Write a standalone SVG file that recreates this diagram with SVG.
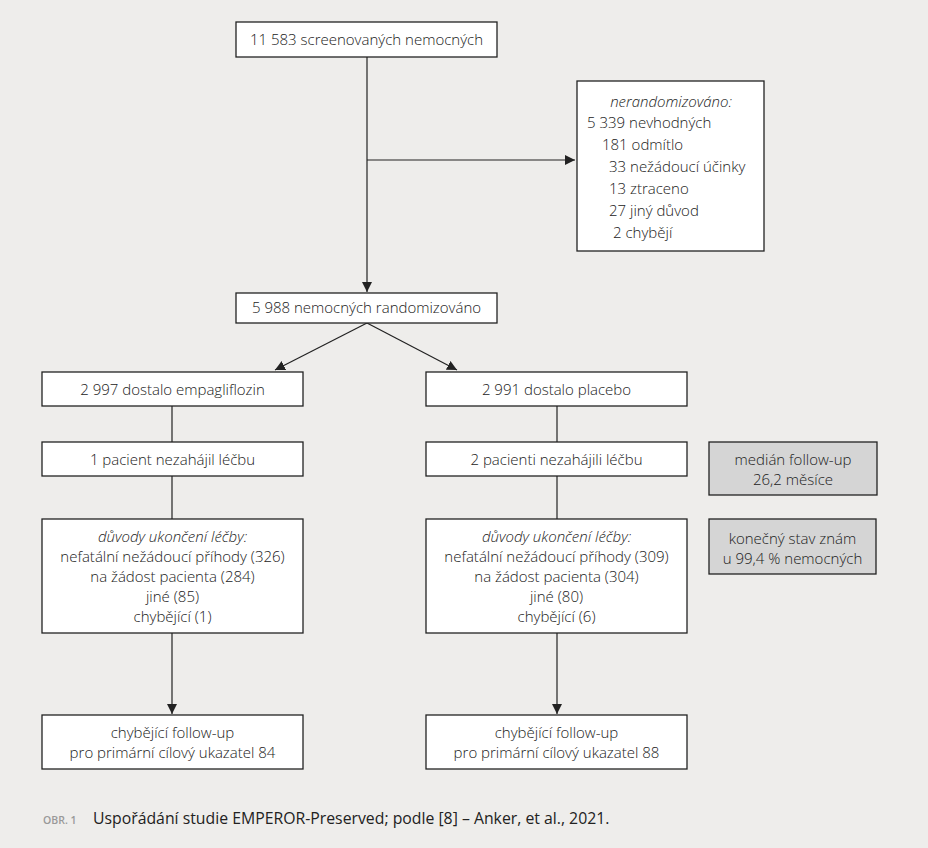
<svg xmlns="http://www.w3.org/2000/svg" width="928" height="848" viewBox="0 0 928 848">
<defs>
<style>
.bg{fill:#eeedeb}
.box{fill:#ffffff;stroke:#222;stroke-width:1.3}
.gbox{fill:#d5d5d5;stroke:#222;stroke-width:1.3}
.t{font-family:"Open Sans","Noto Sans",sans-serif;font-size:15px;fill:#222;font-weight:300}
.c{text-anchor:middle}
.i{font-style:italic}
.ln{stroke:#222;stroke-width:1.2;fill:none}
.cap{font-family:"Open Sans","Noto Sans",sans-serif;font-size:10.5px;fill:#999;font-weight:600}
</style>
<marker id="ah" viewBox="0 0 10 10" refX="10" refY="5" markerWidth="10" markerHeight="10" markerUnits="userSpaceOnUse" orient="auto">
<path d="M0,0 L10,5 L0,10 z" fill="#222"/>
</marker>
</defs>
<rect class="bg" x="0" y="0" width="928" height="848"/>
<g id="connectors">
<line class="ln" x1="367" y1="57" x2="367" y2="292" marker-end="url(#ah)"/>
<line class="ln" x1="367" y1="160" x2="575" y2="160" marker-end="url(#ah)"/>
<line class="ln" x1="367" y1="323" x2="275" y2="370" marker-end="url(#ah)"/>
<line class="ln" x1="367" y1="323" x2="457" y2="370" marker-end="url(#ah)"/>
<line class="ln" x1="172" y1="406" x2="172" y2="442"/>
<line class="ln" x1="172" y1="476" x2="172" y2="519"/>
<line class="ln" x1="172" y1="633" x2="172" y2="714" marker-end="url(#ah)"/>
<line class="ln" x1="557" y1="406" x2="557" y2="442"/>
<line class="ln" x1="557" y1="476" x2="557" y2="519"/>
<line class="ln" x1="557" y1="633" x2="557" y2="714" marker-end="url(#ah)"/>
</g>
<g id="screened">
<rect class="box" x="236" y="22" width="261" height="35"/>
<text class="t c" x="366.5" y="45">11 583 screenovaných nemocných</text>
</g>
<g id="nonrandomized">
<rect class="box" x="577" y="81" width="187" height="170"/>
<text class="t i c" x="671" y="107">nerandomizováno:</text>
<text class="t" x="587" y="128">5 339 nevhodných</text>
<text class="t" x="602" y="150">181 odmítlo</text>
<text class="t" x="609" y="172">33 nežádoucí účinky</text>
<text class="t" x="609" y="194">13 ztraceno</text>
<text class="t" x="609" y="216">27 jiný důvod</text>
<text class="t" x="613" y="238">2 chybějí</text>
</g>
<g id="randomized">
<rect class="box" x="236" y="293" width="261" height="30"/>
<text class="t c" x="366.5" y="313">5 988 nemocných randomizováno</text>
</g>
<g id="empag">
<rect class="box" x="42" y="372" width="261" height="34"/>
<text class="t c" x="172.5" y="395">2 997 dostalo empagliflozin</text>
</g>
<g id="placebo">
<rect class="box" x="426" y="372" width="261" height="34"/>
<text class="t c" x="556.5" y="395">2 991 dostalo placebo</text>
</g>
<g id="empag-notstarted">
<rect class="box" x="42" y="442" width="261" height="34"/>
<text class="t c" x="172.5" y="465">1 pacient nezahájil léčbu</text>
</g>
<g id="placebo-notstarted">
<rect class="box" x="426" y="442" width="261" height="34"/>
<text class="t c" x="556.5" y="465">2 pacienti nezahájili léčbu</text>
</g>
<g id="median">
<rect class="gbox" x="709" y="442" width="168" height="53"/>
<text class="t c" x="793" y="465">medián follow-up</text>
<text class="t c" x="793" y="485">26,2 měsíce</text>
</g>
<g id="known">
<rect class="gbox" x="709" y="519" width="167" height="55"/>
<text class="t c" x="792.5" y="544">konečný stav znám</text>
<text class="t c" x="792.5" y="564">u 99,4 % nemocných</text>
</g>
<g id="empag-reasons">
<rect class="box" x="42" y="519" width="261" height="114"/>
<text class="t i c" x="172.5" y="542">důvody ukončení léčby:</text>
<text class="t c" x="172.5" y="562">nefatální nežádoucí příhody (326)</text>
<text class="t c" x="172.5" y="582">na žádost pacienta (284)</text>
<text class="t c" x="172.5" y="602">jiné (85)</text>
<text class="t c" x="172.5" y="622">chybějící (1)</text>
</g>
<g id="placebo-reasons">
<rect class="box" x="426" y="519" width="261" height="114"/>
<text class="t i c" x="556.5" y="542">důvody ukončení léčby:</text>
<text class="t c" x="556.5" y="562">nefatální nežádoucí příhody (309)</text>
<text class="t c" x="556.5" y="582">na žádost pacienta (304)</text>
<text class="t c" x="556.5" y="602">jiné (80)</text>
<text class="t c" x="556.5" y="622">chybějící (6)</text>
</g>
<g id="empag-missing">
<rect class="box" x="42" y="715" width="261" height="54"/>
<text class="t c" x="172.5" y="738">chybějící follow-up</text>
<text class="t c" x="172.5" y="758">pro primární cílový ukazatel 84</text>
</g>
<g id="placebo-missing">
<rect class="box" x="426" y="715" width="261" height="54"/>
<text class="t c" x="556.5" y="738">chybějící follow-up</text>
<text class="t c" x="556.5" y="758">pro primární cílový ukazatel 88</text>
</g>
<g id="caption">
<text class="cap" x="43" y="824">OBR. 1</text>
<text class="t" x="93" y="824" style="font-size:15.8px;font-weight:400">Uspořádání studie EMPEROR-Preserved; podle [8] – Anker, et al., 2021.</text>
</g>
</svg>
